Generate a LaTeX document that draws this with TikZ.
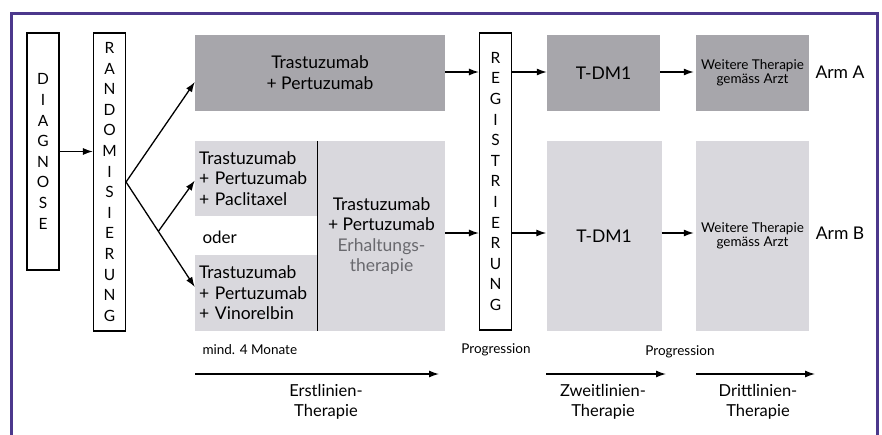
\documentclass[tikz,border=0pt]{standalone}
\usepackage{fontspec}
\setmainfont{Lato}
\usetikzlibrary{arrows.meta,calc}

\definecolor{frameviolet}{RGB}{76,56,140}
\definecolor{armAgray}{RGB}{167,166,171}
\definecolor{armBgray}{RGB}{217,216,221}
\definecolor{notegray}{RGB}{105,105,110}

\tikzset{
  letterbox/.style={draw, line width=1.1pt, inner sep=0pt, minimum width=32pt,
    align=center, font=\fontsize{15.5}{20.6}\selectfont},
  armAbox/.style={fill=armAgray, inner sep=0pt, align=center,
    font=\fontsize{17.5}{21}\selectfont},
  armBbox/.style={fill=armBgray, inner sep=0pt, align=center,
    font=\fontsize{17.5}{20.5}\selectfont},
  arr/.style={line width=1.3pt, -{Latex[length=10pt,width=7pt]}},
  smalltext/.style={font=\fontsize{13.5}{14}\selectfont},
  phase/.style={align=center, font=\fontsize{16.5}{20}\selectfont},
}

\begin{document}
\begin{tikzpicture}[x=1pt,y=-1pt]

  \useasboundingbox (0,0) rectangle (882,434);
  \draw[frameviolet, line width=3pt] (11,440) -- (11,13) -- (877,13) -- (877,440);

  % vertical letter boxes
  \node[letterbox, minimum height=237pt] (diag) at (43,151.5) {D\\I\\A\\G\\N\\O\\S\\E};
  \node[letterbox, minimum height=298pt] (rand) at (109.5,182) {R\\A\\N\\D\\O\\M\\I\\S\\I\\E\\R\\U\\N\\G};
  \node[letterbox, minimum height=297pt] (reg)  at (495.5,181.5) {R\\E\\G\\I\\S\\T\\R\\I\\E\\R\\U\\N\\G};

  % first line
  \node[armAbox, minimum width=250pt, minimum height=76pt] (trapA) at (320,73) {Trastuzumab\\+ Pertuzumab};
  \node[armBbox, minimum width=122pt, minimum height=75pt, text width=114pt, inner xsep=4pt, align=left] (pacli) at (256,178.5) {Trastuzumab\\+ Pertuzumab\\+ Paclitaxel};
  \node[armBbox, minimum width=122pt, minimum height=76pt, text width=114pt, inner xsep=4pt, align=left] (vino) at (256,293) {Trastuzumab\\+ Pertuzumab\\+ Vinorelbin};
  \node[armBbox, minimum width=127pt, minimum height=190pt] (erhalt) at (381.5,236) {Trastuzumab\\+ Pertuzumab\\{\color{notegray}Erhaltungs-}\\{\color{notegray}therapie}};
  \draw[line width=1.3pt] (erhalt.north west) -- (erhalt.south west);
  \node[anchor=west, font=\fontsize{17}{18}\selectfont] (oder) at (199,237) {oder};

  % second and third line
  \node[armAbox, minimum width=113pt, minimum height=76pt] (tdmA) at (603.5,73) {T-DM1};
  \node[armBbox, minimum width=115pt, minimum height=190pt] (tdmB) at (604,236) {T-DM1};
  \node[armAbox, minimum width=113pt, minimum height=76pt, smalltext, align=center] (weiA) at (752.5,73) {Weitere Therapie\\gemäss Arzt};
  \node[armBbox, minimum width=113pt, minimum height=190pt, smalltext, align=center] (weiB) at (752.5,236) {Weitere Therapie\\gemäss Arzt};

  \node[font=\fontsize{17.5}{18}\selectfont] (armA) at (840,72) {Arm A};
  \node[font=\fontsize{17.5}{18}\selectfont] (armB) at (840,233) {Arm B};

  % connectors
  \draw[arr] (diag) -- (diag -| rand.west);
  \coordinate (split) at ($(rand.east)!0.47!([yshift=6pt]vino.west)$);
  \draw[arr] (rand.east) -- ([yshift=-9pt]trapA.west);
  \draw[arr] (rand.east) -- ([yshift=6pt]vino.west);
  \draw[arr] (split) -- ([yshift=-2pt]pacli.west);
  \draw[arr] ([yshift=1pt]trapA.east) -- ([yshift=1pt]trapA.east -| reg.west);
  \draw[arr] ([yshift=3pt]erhalt.east) -- ([yshift=3pt]erhalt.east -| reg.west);
  \draw[arr] ([yshift=1pt]tdmA.west -| reg.east) -- ([yshift=1pt]tdmA.west);
  \draw[arr] ([yshift=3pt]tdmB.west -| reg.east) -- ([yshift=3pt]tdmB.west);
  \draw[arr, shorten >=2pt] ([yshift=1pt]tdmA.east) -- ([yshift=1pt]weiA.west);
  \draw[arr, shorten >=2pt] ([yshift=3pt]tdmB.east) -- ([yshift=3pt]weiB.west);

  % time axis
  \node[smalltext, anchor=west] (mind) at (199,350) {mind. 4 Monate};
  \node[smalltext] (prog1) at (496,350) {Progression};
  \node[smalltext] (prog2) at (680,352) {Progression};

  \coordinate (e1) at (195,374);
  \coordinate (e2) at (439,374);
  \coordinate (z1) at (546,374);
  \coordinate (z2) at (666,374);
  \coordinate (d1) at (696,374);
  \coordinate (d2) at (815,374);
  \draw[arr] (e1) -- (e2);
  \draw[arr] (z1) -- (z2);
  \draw[arr] (d1) -- (d2);

  \node[phase] (erst)  at (326,402) {Erstlinien-\\Therapie};
  \node[phase] (zweit) at (603,402) {Zweitlinien-\\Therapie};
  \node[phase] (dritt) at (758,402) {Drittlinien-\\Therapie};

\end{tikzpicture}
\end{document}
